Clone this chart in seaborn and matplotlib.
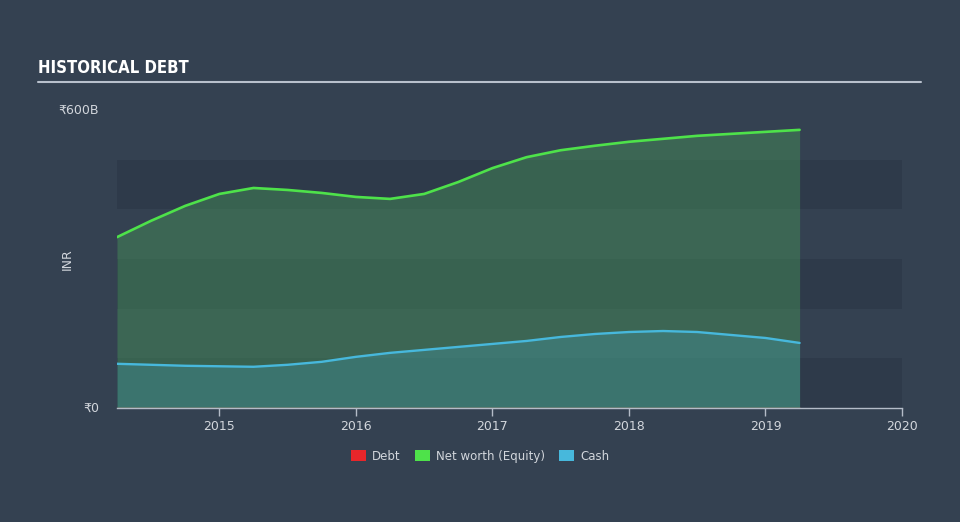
import numpy as np
import pandas as pd
import matplotlib
matplotlib.use("Agg")
import matplotlib.pyplot as plt
import seaborn as sns
from matplotlib.patches import Patch

# ---- data (INR billions) ----
years = [2014.25, 2014.5, 2014.75, 2015.0, 2015.25, 2015.5, 2015.75, 2016.0,
         2016.25, 2016.5, 2016.75, 2017.0, 2017.25, 2017.5, 2017.75, 2018.0,
         2018.25, 2018.5, 2018.75, 2019.0, 2019.25]
equity = [344, 377, 407, 431, 443, 439, 433, 425, 421, 431, 455, 483, 505,
          519, 528, 536, 542, 548, 552, 556, 560]
cash = [89, 87, 85, 84, 83, 87, 93, 103, 111, 117, 123, 129, 135, 143, 149,
        153, 155, 153, 147, 141, 131]
debt = [0] * 21
xticks = [2015, 2016, 2017, 2018, 2019, 2020]
ytick_vals = [0, 600]
ytick_labels = ["₹0", "₹600B"]
legend_labels = ["Debt", "Net worth (Equity)", "Cash"]

BG = "#344151"
BAND = "#2e3a4a"
C_DEBT = "#e8262a"
C_EQ = "#4ee24a"
C_CASH = "#47b8dc"
TXT = "#d2d6dc"

df = pd.DataFrame({"year": years, "equity": equity, "cash": cash, "debt": debt})

sns.set_theme(style="dark")
plt.rcParams["font.family"] = ["DejaVu Sans"]

fig = plt.figure(figsize=(9.6, 5.22), dpi=100, facecolor=BG)
ax = fig.add_axes([117 / 960, 1 - 408 / 522, (902 - 117) / 960, (408 - 110) / 522])
ax.set_facecolor(BG)

# background bands
for lo in (0, 200, 400):
    ax.axhspan(lo, lo + 100, color=BAND, lw=0, zorder=0)

ax.fill_between(df["year"], 0, df["equity"], color="#4aa55a", alpha=0.38, lw=0, zorder=1)
ax.fill_between(df["year"], 0, df["cash"], color=C_CASH, alpha=0.22, lw=0, zorder=2)
ax.fill_between(df["year"], 0, df["debt"], color=C_DEBT, alpha=0.5, lw=0, zorder=3)

sns.lineplot(data=df, x="year", y="equity", color=C_EQ, lw=1.9, ax=ax, zorder=4)
sns.lineplot(data=df, x="year", y="cash", color=C_CASH, lw=1.7, ax=ax, zorder=4)
sns.lineplot(data=df, x="year", y="debt", color="#c8785e", lw=1.0, ax=ax, zorder=4)

ax.set_xlim(2014.25, 2020.0)
ax.set_ylim(0, 600)
ax.set_xticks(xticks)
ax.set_xticklabels([str(t) for t in xticks], color=TXT, fontsize=9)
ax.set_yticks(ytick_vals)
ax.set_yticklabels(ytick_labels, color=TXT, fontsize=9)
ax.tick_params(axis="x", length=6, width=1, color="#b4bcc8", pad=3, bottom=True)
ax.tick_params(axis="y", length=0, pad=13)
for lab in ax.get_yticklabels():
    lab.set_verticalalignment("center")
ax.set_xlabel("")
ax.set_ylabel("INR", color=TXT, fontsize=9)
ax.yaxis.set_label_coords(-0.055, 0.5)
for s in ("top", "right", "left"):
    ax.spines[s].set_visible(False)
ax.spines["bottom"].set_color("#b4bcc8")
ax.spines["bottom"].set_linewidth(1)
ax.grid(False)

# title and rule
fig.text(38 / 960, 1 - 68 / 522, "HISTORICAL DEBT", color="white", fontsize=12,
         fontweight="bold", fontstretch="condensed",
         family=["DejaVu Sans"], va="center")
fig.add_artist(plt.Line2D([38 / 960, 921 / 960], [1 - 82 / 522, 1 - 82 / 522],
                          color="#b8c0cc", lw=1.5))

# legend
handles = [Patch(facecolor=c, edgecolor="none") for c in (C_DEBT, C_EQ, C_CASH)]
leg = fig.legend(handles, legend_labels, loc="center", bbox_to_anchor=(0.5, 1 - 456 / 522),
                 ncol=3, frameon=False, fontsize=8.5, handlelength=1.3, handleheight=1.0,
                 handletextpad=0.5, columnspacing=1.2)
for t in leg.get_texts():
    t.set_color(TXT)

fig.savefig("out.png", dpi=100, facecolor=BG)
